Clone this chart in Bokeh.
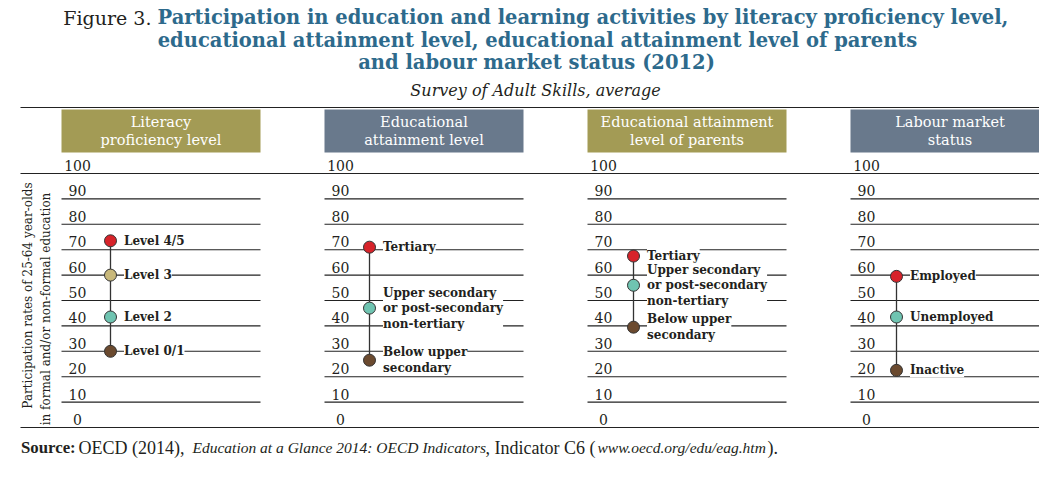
from bokeh.plotting import figure
from bokeh.models import Range1d
from bokeh.embed import file_html
from bokeh.resources import INLINE
from bokeh.core.properties import value
import math

# ---------------- data ----------------
panel_titles = ["Literacy\nproficiency level", "Educational\nattainment level",
                "Educational attainment\nlevel of parents", "Labour market\nstatus"]
panel_colors = ["#a39b55", "#69798c", "#a39b55", "#69798c"]

literacy_labels = ["Level 4/5", "Level 3", "Level 2", "Level 0/1"]
literacy_values = [73.5, 60, 43.5, 30]
attain_labels = ["Tertiary", "Upper secondary\nor post-secondary\nnon-tertiary", "Below upper\nsecondary"]
attain_values = [71, 47, 26.5]
parents_labels = ["Tertiary", "Upper secondary\nor post-secondary\nnon-tertiary", "Below upper\nsecondary"]
parents_values = [67.5, 56, 39.5]
labour_labels = ["Employed", "Unemployed", "Inactive"]
labour_values = [59.5, 43.5, 22.5]

c_red, c_gold, c_teal, c_brown = "#d7232a", "#c8b87a", "#6fc4b1", "#6b4a2f"
literacy_colors = [c_red, c_gold, c_teal, c_brown]
three_colors = [c_red, c_teal, c_brown]

tick_values = [0, 10, 20, 30, 40, 50, 60, 70, 80, 90, 100]
tick_labels = [str(t) for t in tick_values]

panels = [
    (literacy_labels, literacy_values, literacy_colors),
    (attain_labels, attain_values, three_colors),
    (parents_labels, parents_values, three_colors),
    (labour_labels, labour_values, three_colors),
]

# ---------------- layout helpers ----------------
W, H = 1039, 478
PX0, PITCH, PW = 61.0, 263.0, 199.0   # page x of first panel, panel pitch, panel width
PY0, PPV = 427.0, 2.54                # page y of value 0, pixels per unit


def X(px):
    return (px - PX0) / PITCH


def Y(py):
    return (PY0 - py) / PPV


TXT = "#231f20"
SERIF = value("DejaVu Serif")

p = figure(width=W, height=H, output_backend="svg", toolbar_location=None,
           x_range=Range1d(X(0), X(W)), y_range=Range1d(Y(H), Y(0)),
           min_border=0, outline_line_color=None)
p.axis.visible = False
p.grid.visible = False

# full width rules
p.segment(x0=[X(20)] * 3, x1=[X(1039)] * 3, y0=[Y(107), 0, 100], y1=[Y(107), 0, 100],
          line_color="#222222", line_width=1.2)

point_dx = [49, 45, 46, 46]
for i, (labels, vals, cols) in enumerate(panels):
    x_left = i
    x_right = i + PW / PITCH
    # header box
    p.quad(left=[x_left], right=[x_right], top=[Y(109)], bottom=[Y(152)],
           fill_color=panel_colors[i], line_color=None)
    p.text(x=[i + PW / 2 / PITCH], y=[Y(130.5)], text=[panel_titles[i]],
           text_font=SERIF, text_font_size="14.5px", text_color="white",
           text_align="center", text_baseline="middle", text_line_height=1.17)
    # gridlines
    inner = [t for t in tick_values if 0 < t < 100]
    p.segment(x0=[x_left] * len(inner), x1=[x_right] * len(inner), y0=inner, y1=inner,
              line_color="#222222", line_width=1.1)
    # tick labels (sit just above their rule)
    p.text(x=[i + 16 / PITCH] * len(tick_values), y=[t + 8 / PPV for t in tick_values],
           text=tick_labels, text_font=SERIF, text_font_size="14px", text_color=TXT,
           text_align="center", text_baseline="middle")
    xp = i + point_dx[i] / PITCH
    # labels with white background
    p.text(x=[i + (point_dx[i] + 13.5) / PITCH] * len(vals), y=vals, text=labels,
           text_font=SERIF, text_font_size="12px", text_font_style="bold",
           text_color=TXT, text_align="left", text_baseline="middle",
           text_line_height=1.1, background_fill_color="white")
    # connector
    p.segment(x0=[xp], x1=[xp], y0=[min(vals)], y1=[max(vals)],
              line_color="#333333", line_width=1.3)
    p.scatter(x=[xp] * len(vals), y=vals, size=12, fill_color=cols,
              line_color="#333333", line_width=1)

# y-axis title
p.text(x=[X(27)], y=[Y(295)], text=["Participation rates of 25-64 year-olds"],
       angle=math.pi / 2, text_font=SERIF, text_font_size="12px", text_color=TXT,
       text_align="center", text_baseline="middle")
p.text(x=[X(45)], y=[Y(308.5)], text=["in formal and/or non-formal education"],
       angle=math.pi / 2, text_font=SERIF, text_font_size="12px", text_color=TXT,
       text_align="center", text_baseline="middle")

# title
TITLE = "#2d6a8c"
p.text(x=[X(151)], y=[Y(17)], text=["Figure 3."], text_font=SERIF, text_font_size="19px",
       text_color=TXT, text_align="right", text_baseline="middle")
p.text(x=[X(157)], y=[Y(17)],
       text=["Participation in education and learning activities by literacy proficiency level,"],
       text_font=SERIF, text_font_size="19.5px", text_font_style="bold", text_color=TITLE,
       text_align="left", text_baseline="middle")
p.text(x=[X(537), X(536)], y=[Y(40), Y(62)],
       text=["educational attainment level, educational attainment level of parents",
             "and labour market status (2012)"],
       text_font=SERIF, text_font_size="19.5px", text_font_style="bold", text_color=TITLE,
       text_align="center", text_baseline="middle")
p.text(x=[X(535)], y=[Y(90)], text=["Survey of Adult Skills, average"],
       text_font=SERIF, text_font_size="16px", text_font_style="italic", text_color=TXT,
       text_align="center", text_baseline="middle")

# footer
FOOT = value("Liberation Serif")
foot_parts = [
    ("Source:", 20.5, "bold", "16.8px"),
    ("OECD (2014),", 78, "normal", "18px"),
    ("Education at a Glance 2014: OECD Indicators", 192, "italic", "15.5px"),
    (",", 485, "normal", "18px"),
    ("Indicator C6 (", 494, "normal", "18px"),
    ("www.oecd.org/edu/eag.htm", 597, "italic", "15.5px"),
    (").", 767, "normal", "18px"),
]
for txt, px, style, size in foot_parts:
    p.text(x=[X(px)], y=[Y(447)], text=[txt], text_font=FOOT, text_font_size=size,
           text_font_style=style, text_color=TXT, text_align="left", text_baseline="middle")

open("out.html", "w").write(file_html(p, INLINE))
